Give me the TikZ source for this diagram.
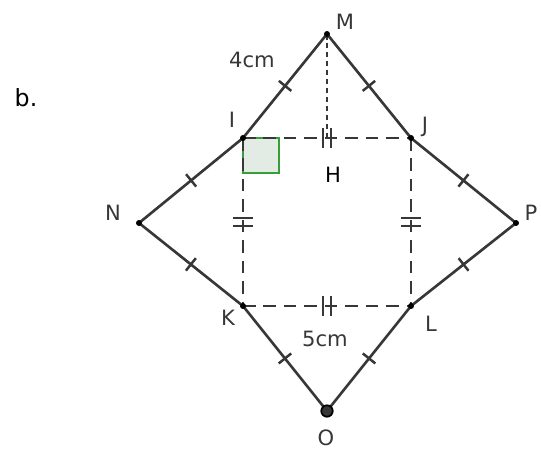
\documentclass[tikz,border=0pt]{standalone}
\usepackage{fontspec}
\setmainfont{DejaVu Sans}
\usetikzlibrary{decorations.markings}
\definecolor{EdgeGray}{RGB}{55,55,55}
\definecolor{AngleGreen}{RGB}{56,158,56}
\definecolor{AngleFill}{RGB}{226,236,228}
\tikzset{
  edge/.style={draw=EdgeGray,line width=1.5pt},
  dashedge/.style={draw=EdgeGray,line width=1.5pt,
    dash pattern=on 0.25cm off 0.16cm},
  onetick/.style={postaction={decorate,decoration={markings,
    mark=at position 0.5 with {\draw[EdgeGray,line width=1.4pt,solid] (0,-8) -- (0,8);}}}},
  twotick/.style={postaction={decorate,decoration={markings,
    mark=at position 0.5 with {\draw[EdgeGray,line width=1.4pt,solid]
      (-4,-10) -- (-4,10) (4,-10) -- (4,10);}}}},
  ptlabel/.style={text=EdgeGray,inner sep=0pt,font=\fontsize{12}{14}\selectfont},
  vdot/.style={fill=black,circle,inner sep=0pt,minimum size=3.4pt},
}

\begin{document}
\begin{tikzpicture}[x=0.02cm,y=-0.02cm]
  \useasboundingbox (0,0) rectangle (541,450);
  % vertices
  \coordinate (M) at (327,34);
  \coordinate (I) at (243,138);
  \coordinate (J) at (411,138);
  \coordinate (N) at (139,223);
  \coordinate (P) at (516,223);
  \coordinate (K) at (243,306);
  \coordinate (L) at (411,306);
  \coordinate (O) at (327,411);
  \coordinate (H) at (327,138);

  % right angle at I
  \draw[AngleGreen,fill=AngleFill,line width=1.5pt] (I) rectangle ++(36,35);

  % dashed square
  \draw[dashedge,twotick] (I) -- (J);
  \draw[dashedge,twotick] (J) -- (L);
  \draw[dashedge,twotick] (K) -- (L);
  \draw[dashedge,twotick] (I) -- (K);
  \draw[dashedge,line width=1.2pt,dash pattern=on 0.11cm off 0.07cm] (M) -- (H);

  % outer sides
  \draw[edge,onetick] (M) -- (I);
  \draw[edge,onetick] (M) -- (J);
  \draw[edge,onetick] (I) -- (N);
  \draw[edge,onetick] (N) -- (K);
  \draw[edge,onetick] (J) -- (P);
  \draw[edge,onetick] (P) -- (L);
  \draw[edge,onetick] (K) -- (O);
  \draw[edge,onetick] (L) -- (O);

  \foreach \p in {M,I,J,N,P,K,L}
    \node[vdot] at (\p) {};
  \node[draw=black,fill=EdgeGray,circle,inner sep=0pt,minimum size=6.5pt,line width=1pt] (Odot) at (O) {};

  % labels
  \node[ptlabel] (lM) at (345,22) {M};
  \node[ptlabel] (lI) at (232,120) {I};
  \node[ptlabel] (lJ) at (425,127) {J};
  \node[ptlabel] (lN) at (113,213) {N};
  \node[ptlabel] (lP) at (531,213) {P};
  \node[ptlabel] (lK) at (228,318) {K};
  \node[ptlabel] (lL) at (431,324) {L};
  \node[ptlabel] (lO) at (326,438) {O};
  \node[ptlabel,text=black] (lH) at (333,175) {H};
  \node[ptlabel] (side4) at (252,60) {4cm};
  \node[ptlabel] (side5) at (325,339) {5cm};
  \node[ptlabel,text=black,font=\fontsize{13.5}{15}\selectfont] (part) at (26,98) {b.};
\end{tikzpicture}
\end{document}
